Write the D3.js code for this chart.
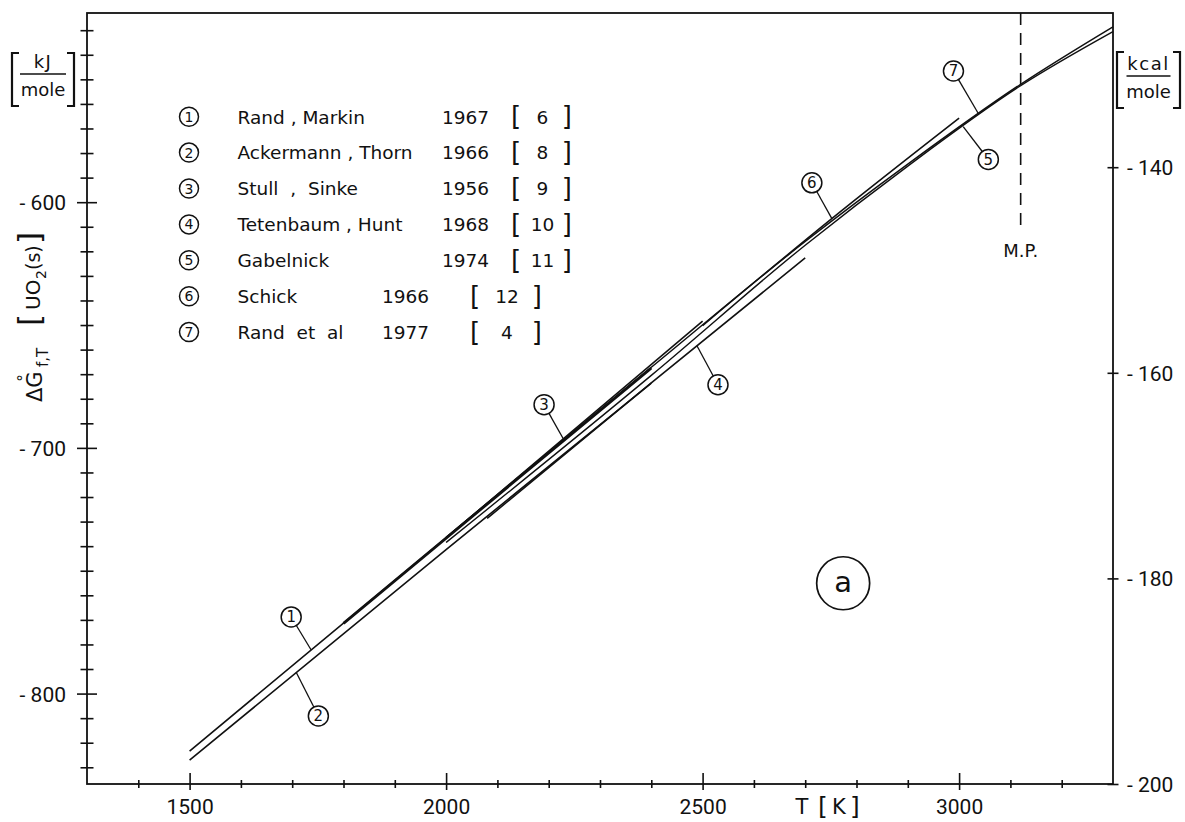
<!DOCTYPE html>
<html><head><meta charset="utf-8">
<script src="https://cdn.jsdelivr.net/npm/d3@7"></script>
<style>
html,body{margin:0;padding:0;background:#fff;}
svg{display:block;}
text{font-family:"DejaVu Sans",sans-serif;fill:#111;white-space:pre;}
</style></head><body>
<svg id="chart" width="1185" height="822"></svg>
<script>
// ---------------- data ----------------
const tempDomain = [1300, 3300];          // T [K]
const kcalDomain = [-200, -125];          // kcal/mole
const kJperKcal = 4.184;

const xTicks = [1400,1500,1600,1700,1800,1900,2000,2100,2200,2300,2400,2500,2600,2700,2800,2900,3000,3100,3200];
const xTickLabels = [1500, 2000, 2500, 3000];
const kJTicks = [-530,-540,-550,-560,-570,-580,-590,-600,-610,-620,-630,-640,-650,-660,-670,-680,-690,-700,-710,-720,-730,-740,-750,-760,-770,-780,-790,-800,-810,-820,-830];
const kJTickLabels = [-600, -700, -800];
const kcalTicks = [-140, -160, -180, -200];

const seriesNumbers = ["1","2","3","4","5","6","7"];
const seriesNames = ["Rand , Markin","Ackermann , Thorn","Stull  ,  Sinke","Tetenbaum , Hunt","Gabelnick","Schick","Rand  et  al"];
const seriesYears = ["1967","1966","1956","1968","1974","1966","1977"];
const seriesRefs  = ["6","8","9","10","11","12","4"];

// ΔG°f,T [kJ/mole]
const randMarkinT = [1500, 2000, 2500];
const randMarkinG = [-823.4, -736.6, -648.4];
const ackermannT  = [1500, 2000, 2400];
const ackermannG  = [-827.1, -741.4, -673.6];
const stullT      = [1800, 2100, 2400];
const stullG      = [-771.4, -719.4, -667.5];
const tetenbaumT  = [2080, 2400, 2700];
const tetenbaumG  = [-728.7, -673.5, -622.7];
const gabelnickT  = [2000, 2400, 2700, 2900, 3120, 3300];
const gabelnickG  = [-738.5, -670.5, -617.5, -585.3, -552.6, -530.6];
const schickT     = [2500, 2750, 3000];
const schickG     = [-650.2, -607.0, -565.8];
const randEtAlT   = [2000, 2400, 2700, 2900, 3120, 3300];
const randEtAlG   = [-736.4, -667.2, -616.0, -584.5, -552.0, -528.6];

// callout circles (label position in data units, and T where the leader meets its line)
const calloutT       = [1698, 1751, 2191, 2530, 3057, 2713, 2989];
const calloutG       = [-768.8, -809.1, -682.4, -674.3, -582.6, -592.1, -546.6];
const calloutTargetT = [1737, 1708, 2230, 2489, 3008, 2752, 3038];

const meltingPoint = 3120;          // K
const meltingLineBottomG = -612;    // kJ, lower end of the dashed line
const panelLabel = "a";
const panelT = 2774, panelG = -755.1;

// ---------------- drawing ----------------
const ink = "#111";
const svg = d3.select("#chart");
const xLeft = 87, xRight = 1113, yTop = 13, yBottom = 784;

const x = d3.scaleLinear().domain(tempDomain).range([xLeft, xRight]);
const yKcal = d3.scaleLinear().domain(kcalDomain).range([yBottom, yTop]);
const yKJ = d3.scaleLinear().domain(kcalDomain.map(v => v * kJperKcal)).range([yBottom, yTop]);

// frame
svg.append("rect").attr("x", xLeft).attr("y", yTop)
  .attr("width", xRight - xLeft).attr("height", yBottom - yTop)
  .attr("fill", "none").attr("stroke", ink).attr("stroke-width", 1.8);

// bottom axis
const gx = svg.append("g").attr("transform", `translate(0,${yBottom})`)
  .call(d3.axisBottom(x).tickValues(xTicks).tickSizeOuter(0)
    .tickFormat(d => xTickLabels.includes(d) ? String(d) : ""));
gx.select(".domain").remove();
gx.selectAll(".tick line")
  .attr("y1", d => xTickLabels.includes(d) ? -11 : -4)
  .attr("y2", d => xTickLabels.includes(d) ? 6 : 4)
  .attr("stroke", ink).attr("stroke-width", 1.6);
gx.selectAll(".tick text").attr("y", 30).attr("dy", 0)
  .style("font-family", "Roboto").style("font-size", "21px").attr("fill", ink);

// left axis (kJ/mole)
const gl = svg.append("g").attr("transform", `translate(${xLeft},0)`)
  .call(d3.axisLeft(yKJ).tickValues(kJTicks).tickSizeOuter(0)
    .tickFormat(d => kJTickLabels.includes(d) ? "- " + Math.abs(d) : ""));
gl.select(".domain").remove();
gl.selectAll(".tick line")
  .attr("x1", d => kJTickLabels.includes(d) ? -10 : -6.5)
  .attr("x2", d => kJTickLabels.includes(d) ? 10 : 6.5)
  .attr("stroke", ink).attr("stroke-width", 1.6);
gl.selectAll(".tick text").attr("x", -21).attr("dy", "0.36em")
  .style("font-family", "Roboto").style("font-size", "21px").attr("fill", ink);

// right axis (kcal/mole)
const gr = svg.append("g").attr("transform", `translate(${xRight},0)`)
  .call(d3.axisRight(yKcal).tickValues(kcalTicks).tickSizeOuter(0)
    .tickFormat(d => "- " + Math.abs(d)));
gr.select(".domain").remove();
gr.selectAll(".tick line").attr("x1", -5.5).attr("x2", 5.5)
  .attr("stroke", ink).attr("stroke-width", 1.6);
gr.selectAll(".tick text").attr("x", 14).attr("dy", "0.36em")
  .style("font-family", "Roboto").style("font-size", "21px").attr("fill", ink);

// x axis title  T [K]
const xt = svg.append("g").style("font-family", "Roboto").attr("fill", ink);
xt.append("text").attr("x", 802).attr("y", 814).attr("text-anchor", "middle").style("font-size", "21px").text("T");
xt.append("text").attr("x", 823).attr("y", 815).attr("text-anchor", "middle").style("font-size", "25px").text("[");
xt.append("text").attr("x", 839).attr("y", 814).attr("text-anchor", "middle").style("font-size", "21px").text("K");
xt.append("text").attr("x", 855).attr("y", 815).attr("text-anchor", "middle").style("font-size", "25px").text("]");

// unit boxes
function unitBox(cx, yT, yB, halfW, top, bottom, lineHalf, lineY) {
  const g = svg.append("g");
  const xl = cx - halfW, xr = cx + halfW;
  g.append("path").attr("d", `M${xl + 7},${yT}H${xl}V${yB}H${xl + 7}`)
    .attr("fill", "none").attr("stroke", ink).attr("stroke-width", 2.2);
  g.append("path").attr("d", `M${xr - 7},${yT}H${xr}V${yB}H${xr - 7}`)
    .attr("fill", "none").attr("stroke", ink).attr("stroke-width", 2.2);
  g.append("path").attr("d", `M${cx - lineHalf},${lineY}H${cx + lineHalf}`)
    .attr("stroke", ink).attr("stroke-width", 1.6);
  g.append("text").attr("x", cx).attr("y", lineY - 6).attr("text-anchor", "middle")
    .style("font-size", "18px").style("letter-spacing", "1.5px").text(top);
  g.append("text").attr("x", cx).attr("y", lineY + 22).attr("text-anchor", "middle")
    .style("font-size", "18px").text(bottom);
}
unitBox(43, 53, 106, 31, "kJ", "mole", 23, 74);
unitBox(1148.5, 52, 108, 31.5, "kcal", "mole", 22, 76);

// y axis title  ΔG°f,T [UO2(s)]  (rotated)
const yt = svg.append("g").attr("transform", "translate(42,402) rotate(-90)");
yt.append("text").attr("x", 0).attr("y", 0).style("font-size", "21px").text("ΔG");
yt.append("text").attr("x", 24).attr("y", -13).attr("text-anchor", "middle").style("font-size", "15px").text("°");
yt.append("text").attr("x", 35).attr("y", 6).style("font-size", "15px").text("f,T");
yt.append("text").attr("x", 76).attr("y", -2).style("font-size", "31px").text("[");
yt.append("text").attr("x", 92).attr("y", -2).style("font-size", "20px").text("UO");
yt.append("text").attr("x", 123).attr("y", 4).style("font-size", "14px").text("2");
yt.append("text").attr("x", 132).attr("y", -2).style("font-size", "19px").text("(s)");
yt.append("text").attr("x", 158).attr("y", -2).style("font-size", "31px").text("]");

// data lines
const allT = [randMarkinT, ackermannT, stullT, tetenbaumT, gabelnickT, schickT, randEtAlT];
const allG = [randMarkinG, ackermannG, stullG, tetenbaumG, gabelnickG, schickG, randEtAlG];
const lineWidths = [1.6, 1.6, 2.8, 1.6, 1.4, 1.6, 1.5];
const line = d3.line().x(d => x(d[0])).y(d => yKJ(d[1])).curve(d3.curveMonotoneX);
svg.append("g").selectAll("path").data(allT.map((T, i) => ({ i, pts: T.map((t, k) => [t, allG[i][k]]) })))
  .join("path")
  .attr("d", d => line(d.pts))
  .attr("fill", "none").attr("stroke", ink)
  .attr("stroke-width", d => lineWidths[d.i])
  .attr("stroke-linecap", "butt");

// melting point
svg.append("line")
  .attr("x1", x(meltingPoint)).attr("x2", x(meltingPoint))
  .attr("y1", yTop).attr("y2", yKJ(meltingLineBottomG))
  .attr("stroke", ink).attr("stroke-width", 1.6).attr("stroke-dasharray", "12,8");
svg.append("text").attr("x", x(meltingPoint)).attr("y", yKJ(meltingLineBottomG) + 25)
  .attr("text-anchor", "middle").style("font-size", "18px").text("M.P.");

// callouts
const r = 10;
const callouts = svg.append("g");
seriesNumbers.forEach((lab, i) => {
  const cx = x(calloutT[i]), cy = yKJ(calloutG[i]);
  const interp = d3.scaleLinear().domain(allT[i]).range(allG[i]);
  const tx = x(calloutTargetT[i]), ty = yKJ(interp(calloutTargetT[i]));
  const dx = tx - cx, dy = ty - cy, L = Math.hypot(dx, dy);
  callouts.append("line")
    .attr("x1", cx + dx / L * r).attr("y1", cy + dy / L * r)
    .attr("x2", tx).attr("y2", ty)
    .attr("stroke", ink).attr("stroke-width", 1.3);
  callouts.append("circle").attr("cx", cx).attr("cy", cy).attr("r", r)
    .attr("fill", "#fff").attr("stroke", ink).attr("stroke-width", 1.5);
  callouts.append("text").attr("x", cx).attr("y", cy + 5.5).attr("text-anchor", "middle")
    .style("font-size", "15px").text(lab);
});

// panel label (a)
svg.append("circle").attr("cx", x(panelT)).attr("cy", yKJ(panelG)).attr("r", 26.5)
  .attr("fill", "none").attr("stroke", ink).attr("stroke-width", 1.7);
svg.append("text").attr("x", x(panelT)).attr("y", yKJ(panelG) + 9).attr("text-anchor", "middle")
  .style("font-size", "29px").text(panelLabel);

// legend
const legend = svg.append("g");
const rowY = i => 116.7 + i * 35.9;
seriesNumbers.forEach((num, i) => {
  const y0 = rowY(i);
  legend.append("circle").attr("cx", 189).attr("cy", y0).attr("r", 9.5)
    .attr("fill", "none").attr("stroke", ink).attr("stroke-width", 1.5);
  legend.append("text").attr("x", 189).attr("y", y0 + 5).attr("text-anchor", "middle")
    .style("font-size", "14px").text(num);
  legend.append("text").attr("x", 237.5).attr("y", y0 + 6.8)
    .style("font-size", "18.5px").text(seriesNames[i]);
  const late = i >= 5;
  legend.append("text").attr("x", late ? 382 : 442).attr("y", y0 + 6.8)
    .style("font-size", "18.5px").text(seriesYears[i]);
  const bl = late ? 470 : 511, br = late ? 542 : 572;
  legend.append("text").attr("x", bl).attr("y", y0 + 8.5)
    .style("font-size", "26px").text("[");
  legend.append("text").attr("x", br).attr("y", y0 + 8.5).attr("text-anchor", "end")
    .style("font-size", "26px").text("]");
  legend.append("text").attr("x", (bl + br) / 2 + 1).attr("y", y0 + 6.8).attr("text-anchor", "middle")
    .style("font-size", "18.5px").text(seriesRefs[i]);
});
</script>
</body></html>
